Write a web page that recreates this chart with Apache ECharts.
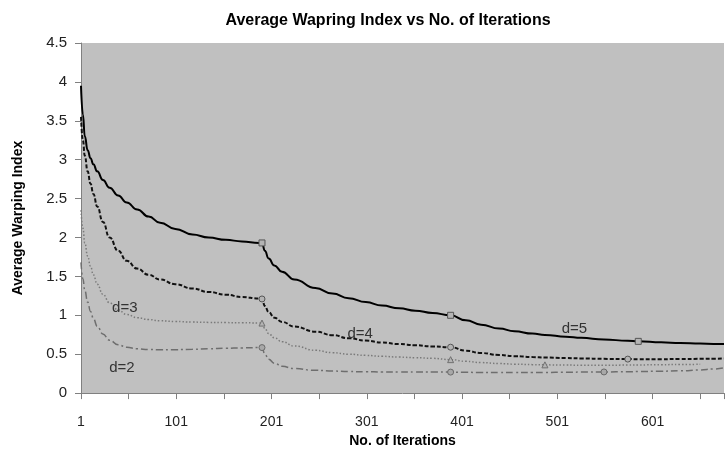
<!DOCTYPE html>
<html>
<head>
<meta charset="utf-8">
<script src="https://cdn.jsdelivr.net/npm/echarts@6/dist/echarts.min.js"></script>
<style>html,body{margin:0;padding:0;background:#fff}#c{width:727px;height:453px}</style>
</head>
<body>
<div id="c"></div>
<script>
// Iteration numbers (x) shared by all series
const iterations = [1, 3, 5, 8, 11, 14, 18, 24, 31, 40, 49, 60, 72, 84, 100, 118, 135, 153, 170, 188, 191, 194, 198, 204, 212, 225, 247, 265, 282, 300, 317, 335, 352, 370, 389, 405, 421, 440, 456, 475, 488, 510, 526, 550, 575, 586, 610, 630, 651, 665, 676];
const d5 = [3.95, 3.58, 3.30, 3.12, 3.02, 2.94, 2.85, 2.74, 2.64, 2.54, 2.45, 2.36, 2.27, 2.19, 2.11, 2.04, 2.00, 1.97, 1.95, 1.93, 1.93, 1.83, 1.73, 1.64, 1.56, 1.46, 1.35, 1.28, 1.22, 1.17, 1.125, 1.09, 1.06, 1.03, 1.0, 0.935, 0.88, 0.83, 0.795, 0.765, 0.748, 0.725, 0.71, 0.69, 0.672, 0.665, 0.652, 0.643, 0.636, 0.632, 0.63];
const d4 = [3.55, 3.25, 3.05, 2.85, 2.69, 2.56, 2.40, 2.20, 2.00, 1.83, 1.70, 1.60, 1.52, 1.46, 1.40, 1.345, 1.30, 1.265, 1.235, 1.215, 1.21, 1.12, 1.04, 0.97, 0.915, 0.855, 0.79, 0.745, 0.705, 0.675, 0.65, 0.63, 0.615, 0.60, 0.59, 0.545, 0.515, 0.49, 0.475, 0.463, 0.457, 0.45, 0.446, 0.44, 0.437, 0.436, 0.436, 0.438, 0.44, 0.442, 0.444];
const d3 = [2.35, 2.12, 1.93, 1.76, 1.63, 1.52, 1.40, 1.27, 1.16, 1.07, 1.01, 0.97, 0.945, 0.93, 0.92, 0.913, 0.909, 0.906, 0.904, 0.902, 0.90, 0.83, 0.765, 0.71, 0.66, 0.605, 0.55, 0.52, 0.50, 0.485, 0.473, 0.463, 0.455, 0.447, 0.43, 0.408, 0.392, 0.38, 0.372, 0.366, 0.363, 0.36, 0.359, 0.358, 0.36, 0.362, 0.365, 0.368, 0.37, null, null];
const d2 = [1.68, 1.47, 1.32, 1.17, 1.05, 0.96, 0.86, 0.76, 0.68, 0.62, 0.59, 0.57, 0.56, 0.557, 0.558, 0.563, 0.57, 0.576, 0.581, 0.585, 0.585, 0.50, 0.435, 0.385, 0.345, 0.315, 0.293, 0.283, 0.277, 0.274, 0.272, 0.271, 0.27, 0.27, 0.27, 0.267, 0.265, 0.264, 0.264, 0.265, 0.266, 0.268, 0.27, 0.272, 0.275, 0.277, 0.281, 0.287, 0.297, 0.31, 0.325];
// Iterations carrying a marker, per series
const marks5 = [191, 389, 586];
const marks4 = [191, 389, 575];
const marks3 = [191, 389, 488];
const marks2 = [191, 389, 550];
// Curve labels: [text, iteration, value]
const curveLabels = [["d=5", 519, 0.83], ["d=4", 294, 0.76], ["d=3", 47, 1.10], ["d=2", 44, 0.32]];
const yTicks = [0, 0.5, 1, 1.5, 2, 2.5, 3, 3.5, 4, 4.5];

const FONT = 'Liberation Sans, Arial, sans-serif';

function build(vals, marks, sym, fill, border) {
  const out = [];
  for (let i = 0; i < iterations.length; i++) {
    if (vals[i] == null) continue;
    const p = { value: [iterations[i] - 1, vals[i]] };
    if (marks.indexOf(iterations[i]) >= 0) {
      p.symbol = sym; p.symbolSize = 6;
      p.itemStyle = { color: fill, borderColor: border, borderWidth: 1 };
    }
    out.push(p);
  }
  return out;
}

function lbl(idx) {
  const l = curveLabels[idx];
  return {
    silent: true, symbol: 'circle', symbolSize: 24,
    itemStyle: { color: 'rgba(0,0,0,0)' },
    data: [{ coord: [l[1] - 1, l[2]], value: l[0] }],
    label: { show: true, position: 'inside', formatter: l[0], color: '#333', fontSize: 15, fontFamily: FONT }
  };
}

const chart = echarts.init(document.getElementById('c'), null, { renderer: 'canvas' });
chart.setOption({
  animation: false,
  backgroundColor: '#fff',
  title: {
    text: 'Average Wapring Index vs No. of Iterations',
    left: 383, top: 8, textAlign: 'center',
    textStyle: { fontFamily: FONT, fontWeight: 'bold', fontSize: 16, color: '#000' }
  },
  grid: { left: 81, right: 0, top: 43, bottom: 54, show: true, backgroundColor: '#c0c0c0', borderWidth: 0 },
  xAxis: {
    type: 'value', min: 0, max: 675, interval: 50,
    name: 'No. of Iterations', nameLocation: 'middle', nameGap: 37,
    nameTextStyle: { fontFamily: FONT, fontWeight: 'bold', fontSize: 14, color: '#000' },
    axisLine: { show: true, lineStyle: { color: '#808080', width: 1 } },
    axisTick: { show: true, length: 6, lineStyle: { color: '#808080' } },
    axisLabel: { margin: 22, fontFamily: FONT, fontSize: 14, color: '#222',
      formatter: v => (v % 100 === 0 ? String(v + 1) : '') },
    splitLine: { show: false }
  },
  yAxis: {
    type: 'value', min: 0, max: 4.5, interval: 0.5,
    name: 'Average Warping Index', nameLocation: 'middle', nameGap: 56, nameRotate: 90,
    nameTextStyle: { fontFamily: FONT, fontWeight: 'bold', fontSize: 14, color: '#000' },
    axisLine: { show: true, lineStyle: { color: '#808080', width: 1 } },
    axisTick: { show: true, length: 6, lineStyle: { color: '#808080' } },
    axisLabel: { margin: 14, fontFamily: FONT, fontSize: 15, color: '#222',
      formatter: v => (yTicks.indexOf(v) >= 0 ? String(v) : '') },
    splitLine: { show: false }
  },
  series: [
    { name: 'd=2', type: 'line', data: build(d2, marks2, 'circle', '#a8a8a8', '#6a6a6a'), symbol: 'none', smooth: 0.5, smoothMonotone: 'x',
      lineStyle: { color: '#6e6e6e', width: 1.5, type: [7, 3, 2, 3] }, markPoint: lbl(3) },
    { name: 'd=3', type: 'line', data: build(d3, marks3, 'triangle', '#b4b4b4', '#707070'), symbol: 'none', smooth: 0.5, smoothMonotone: 'x',
      lineStyle: { color: '#7a7a7a', width: 1.5, type: [1.5, 2] }, markPoint: lbl(2) },
    { name: 'd=4', type: 'line', data: build(d4, marks4, 'circle', '#b4b4b4', '#555'), symbol: 'none', smooth: 0.5, smoothMonotone: 'x',
      lineStyle: { color: '#111', width: 2, type: [4, 2] }, markPoint: lbl(1) },
    { name: 'd=5', type: 'line', data: build(d5, marks5, 'rect', '#b4b4b4', '#555'), symbol: 'none', smooth: 0.5, smoothMonotone: 'x',
      lineStyle: { color: '#000', width: 2 }, markPoint: lbl(0) }
  ]
});
</script>
</body>
</html>
